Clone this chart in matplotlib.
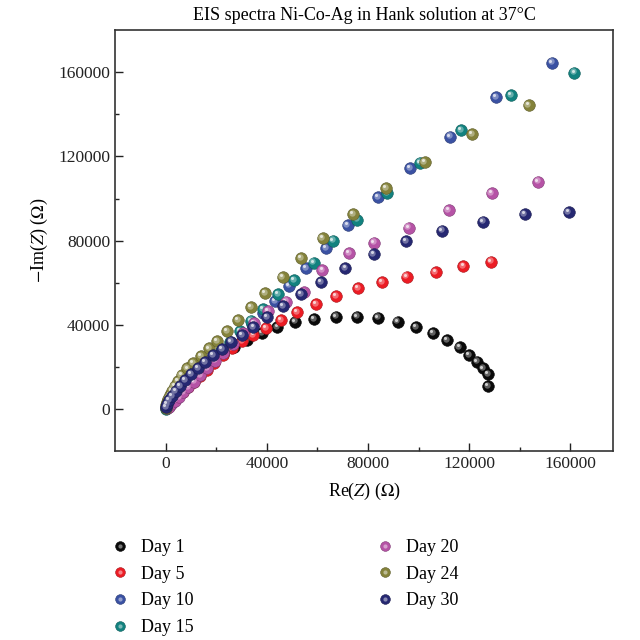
import matplotlib
matplotlib.use('Agg')
import matplotlib.pyplot as plt
import matplotlib.transforms as mtransforms
from matplotlib.colors import to_rgb
from matplotlib.lines import Line2D
from matplotlib.legend_handler import HandlerTuple

plt.rcParams['font.family'] = ['Liberation Serif', 'DejaVu Serif']
plt.rcParams['mathtext.fontset'] = 'stix'

# dane (Ohm), od visokih frekvenc proti nizkim
labels = ['Day 1', 'Day 5', 'Day 10', 'Day 15', 'Day 20', 'Day 24', 'Day 30']
colors = ['#0a0a0a', '#ec1c24', '#3a51a3', '#12827f', '#b653a6', '#84823a', '#262872']

day1_re = [400, 1100, 2200, 3600, 5300, 7300, 9600, 12200, 15200, 18600, 22500, 27000, 32100,
           38000, 44200, 51200, 58700, 67400, 75600, 84000, 91700, 99100, 105700, 111300,
           116300, 120100, 123200, 125500, 127400, 127600]
day1_im = [600, 1700, 3300, 5200, 7500, 10000, 12800, 15800, 19000, 22500, 26000, 29500, 32800,
           36000, 39100, 41500, 42800, 43900, 43900, 43400, 41500, 39100, 36000, 32800,
           29600, 25700, 22500, 19300, 16500, 10900]

day5_re = [400, 1100, 2200, 3500, 5000, 6800, 8800, 11000, 13500, 16200, 19200, 22500, 26100,
           30100, 34700, 39600, 45500, 52100, 59400, 67400, 76000, 85500, 95300, 106800,
           117800, 128700]
day5_im = [450, 1300, 2600, 4100, 6000, 8000, 10400, 13000, 15800, 18800, 22000, 25500, 29100,
           32400, 35200, 38600, 42400, 46200, 49700, 53700, 57300, 60200, 62900, 65200,
           67900, 70000]

day10_re = [200, 700, 1600, 2800, 4200, 6000, 8000, 10500, 13000, 16000, 19000, 22500, 26000,
            30000, 34000, 38500, 43300, 48900, 55400, 63400, 72000, 84000, 96700, 112600,
            130700, 152900]
day10_im = [300, 1100, 2400, 4000, 6000, 8300, 11000, 14000, 17000, 20500, 23800, 27500, 31500,
            36000, 40500, 45500, 51300, 58600, 66800, 76300, 87400, 100600, 114600, 129400,
            148100, 164500]

day15_re = [200, 800, 1800, 3000, 4500, 6200, 8200, 10500, 13000, 15800, 18800, 22000, 25500,
            29500, 33800, 38600, 44400, 50800, 58500, 66100, 75600, 87500, 100700, 116800,
            136700, 161700]
day15_im = [200, 900, 2000, 3500, 5300, 7500, 10000, 13000, 16200, 19800, 23500, 27500, 32000,
            37000, 42000, 47400, 54500, 61300, 69500, 80000, 90000, 102500, 117000, 132500,
            149200, 159800]

day20_re = [300, 1100, 2200, 3600, 5200, 7000, 9000, 11200, 13700, 16500, 19500, 22800, 26500,
            30500, 35000, 40600, 47500, 54800, 62000, 72500, 82500, 96100, 111900, 128900,
            147300]
day20_im = [350, 1200, 2400, 4000, 5800, 7900, 10300, 13000, 16000, 19400, 23000, 26800, 31000,
            36000, 41000, 46600, 51000, 55700, 66000, 74000, 79000, 86200, 94500, 102500,
            108000]

day24_re = [50, 200, 500, 1000, 1700, 2500, 3500, 4750, 6300, 8600, 10900, 13900, 17100, 20400,
            24400, 28500, 33700, 39300, 46200, 53600, 62100, 74100, 87200, 102400, 121200,
            143600]
day24_im = [600, 1800, 3300, 5000, 6800, 8800, 11000, 13400, 16200, 19300, 22000, 25200, 28800,
            32400, 37100, 42300, 48300, 55000, 62600, 71600, 81200, 92500, 104900, 117300,
            130700, 144400]

day30_re = [100, 500, 1300, 2500, 3900, 5700, 7600, 10000, 12800, 15600, 18800, 22200, 25900,
            30100, 34700, 40200, 46300, 53500, 61500, 71100, 82200, 95000, 109200, 125500,
            142000, 159400]
day30_im = [1000, 2400, 4300, 6200, 8600, 10900, 13800, 16600, 19500, 22300, 25700, 28400, 32000,
            35200, 39100, 43600, 48900, 54600, 60200, 66800, 73500, 79800, 84700, 89000,
            92500, 93700]

series = [(day1_re, day1_im), (day5_re, day5_im), (day10_re, day10_im), (day15_re, day15_im),
          (day20_re, day20_im), (day24_re, day24_im), (day30_re, day30_im)]


def mix(c, w, t):
    c = to_rgb(c)
    w = to_rgb(w)
    return tuple(c[i] * (1 - t) + w[i] * t for i in range(3))


fig = plt.figure(figsize=(6.4, 6.4), dpi=100)
ax = fig.add_axes([0.180, 0.295, 0.778, 0.658])

off1 = mtransforms.offset_copy(ax.transData, fig=fig, x=-0.9, y=0.9, units='points')
off2 = mtransforms.offset_copy(ax.transData, fig=fig, x=-1.4, y=1.4, units='points')

s = 70
handles = []
for i, ((re, im), c) in enumerate(zip(series, colors)):
    z = 3 + i * 3
    ax.scatter(re, im, s=s, color=c, edgecolors=mix(c, 'black', 0.3), linewidths=0.4, zorder=z)
    ax.scatter(re, im, s=s * 0.3, color=mix(c, 'white', 0.35), linewidths=0, zorder=z + 1, transform=off1)
    ax.scatter(re, im, s=s * 0.07, color=mix(c, 'white', 0.8), linewidths=0, zorder=z + 2, transform=off2)
    h1 = Line2D([], [], marker='o', ls='none', ms=7, color=c, mec=mix(c, 'black', 0.3), mew=0.4)
    h2 = Line2D([], [], marker='o', ls='none', ms=3, color=mix(c, 'white', 0.45), mew=0)
    handles.append((h1, h2))

ax.set_xlim(-20000, 177000)
ax.set_ylim(-20000, 180000)
ax.set_xticks([0, 40000, 80000, 120000, 160000])
ax.set_yticks([0, 40000, 80000, 120000, 160000])
ax.set_xticks([20000, 60000, 100000, 140000], minor=True)
ax.set_yticks([20000, 60000, 100000, 140000], minor=True)
ax.tick_params(which='both', direction='in', labelsize=12.5, colors='#222222', width=1.0)
ax.tick_params(which='major', length=6)
ax.tick_params(which='minor', length=3)
for sp in ax.spines.values():
    sp.set_linewidth(1.2)
    sp.set_color('#333333')

ax.set_title('EIS spectra Ni-Co-Ag in Hank solution at 37°C', fontsize=13, pad=7)
ax.set_xlabel(r'Re($Z$) ($\Omega$)', fontsize=13, labelpad=6)
ax.set_ylabel(r'$-$Im($Z$) ($\Omega$)', fontsize=13, labelpad=6)

fig.legend(handles, labels, handler_map={tuple: HandlerTuple(ndivide=1)},
           loc='upper left', bbox_to_anchor=(0.148, 0.183), ncol=2, frameon=False,
           fontsize=13, handlelength=1.0, handletextpad=0.65, labelspacing=0.53,
           columnspacing=10.1)

plt.savefig('out.png', dpi=100)
